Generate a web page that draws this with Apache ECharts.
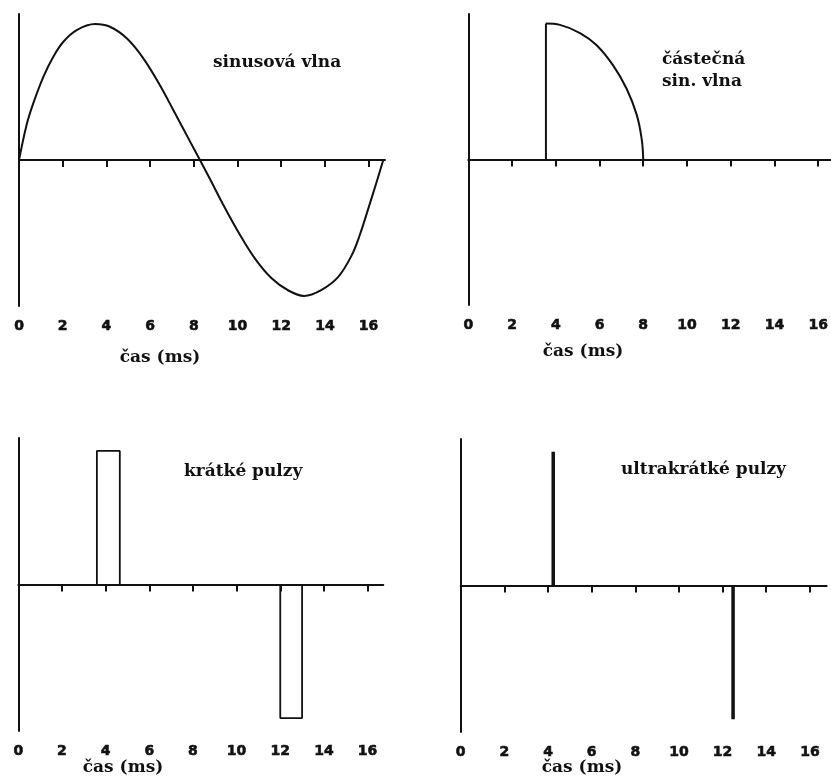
<!DOCTYPE html>
<html>
<head>
<meta charset="utf-8">
<script src="https://cdn.jsdelivr.net/npm/echarts@6/dist/echarts.min.js"></script>
<style>
  html, body { margin: 0; padding: 0; background: #ffffff; }
  #chart { width: 831px; height: 777px; }
</style>
</head>
<body>
<div id="chart"></div>
<script>
// Time axis (ms)
const tickLabels = [0, 2, 4, 6, 8, 10, 12, 14, 16];
const tickMarks = [2, 4, 6, 8, 10, 12, 14, 16];

// Full sine wave (one 60 Hz cycle)
const sineT = [0, 0.35, 0.66, 1.11, 1.57, 2.03, 2.64, 3.48, 4.16, 4.93, 5.69, 6.45, 7.06, 7.83, 8.28,
               8.74, 9.35, 10.11, 10.80, 11.56, 12.33, 13.05, 13.85, 14.61, 15.23, 15.60, 16.00, 16.37, 16.67];
const sineV = [0, 0.26, 0.42, 0.61, 0.76, 0.87, 0.956, 1.0, 0.98, 0.895, 0.748, 0.55, 0.368, 0.135, 0,
               -0.14, -0.33, -0.55, -0.725, -0.87, -0.96, -1.0, -0.955, -0.86, -0.70, -0.55, -0.35, -0.16, 0];

// Partial sine wave: rising edge, then decaying arc
const partEdgeT = [3.55, 3.55];
const partEdgeV = [0, 1.0];
const partArcT = [3.55, 4.19, 5.11, 5.87, 6.63, 7.24, 7.70, 7.93, 8.0];
const partArcV = [1.0, 0.99, 0.93, 0.84, 0.69, 0.52, 0.33, 0.15, 0];

// Short pulses (rectangles)
const pulsePosT = [3.6, 3.6, 4.65, 4.65];
const pulsePosV = [0, 1, 1, 0];
const pulseNegT = [12.0, 12.0, 13.0, 13.0];
const pulseNegV = [0, -1, -1, 0];

// Ultra-short pulses (spikes)
const spikePosT = [4.24, 4.24];
const spikePosV = [0, 1];
const spikeNegT = [12.48, 12.48];
const spikeNegV = [0, -1];

const zip = (t, v) => t.map((x, i) => [x, v[i]]);

const INK = '#111111';
const panels = [
  { left: 19,    top: 14,  width: 366, height: 292, xMax: 16.75, yMax: 1.074 },
  { left: 468.3, top: 14,  width: 363, height: 291, xMax: 16.6,  yMax: 1.07 },
  { left: 18.3,  top: 438, width: 365, height: 293, xMax: 16.72, yMax: 1.097 },
  { left: 460.7, top: 439, width: 366, height: 293, xMax: 16.77, yMax: 1.095 }
];

const grid = panels.map(p => ({
  left: p.left, top: p.top, width: p.width, height: p.height,
  containLabel: false, outerBoundsMode: 'none'
}));

const xAxis = [];
const yAxis = [];
panels.forEach((p, i) => {
  // zero line with downward ticks
  xAxis.push({
    type: 'value', gridIndex: i, min: 0, max: p.xMax, position: 'bottom',
    axisLine: { show: true, onZero: true, lineStyle: { color: INK, width: 2 } },
    axisTick: { show: true, customValues: tickMarks, length: 7, inside: false, lineStyle: { color: INK, width: 2 } },
    axisLabel: { show: false },
    splitLine: { show: false }
  });
  // tick labels along the bottom
  xAxis.push({
    type: 'value', gridIndex: i, min: 0, max: p.xMax, position: 'bottom',
    axisLine: { show: false, onZero: false },
    axisTick: { show: false },
    axisLabel: {
      show: true, customValues: tickLabels, margin: 13,
      color: INK, fontFamily: 'DejaVu Sans', fontWeight: 'bold', fontSize: 14,
      textBorderColor: INK, textBorderWidth: 0.6
    },
    splitLine: { show: false }
  });
  yAxis.push({
    type: 'value', gridIndex: i, min: -p.yMax, max: p.yMax,
    axisLine: { show: true, onZero: false, lineStyle: { color: INK, width: 2 } },
    axisTick: { show: false },
    axisLabel: { show: false },
    splitLine: { show: false }
  });
});

const lineSeries = (grid, data, width, smooth) => ({
  type: 'line', xAxisIndex: grid * 2, yAxisIndex: grid, data: data,
  showSymbol: false, smooth: smooth || false, silent: true,
  lineStyle: { color: INK, width: width }, z: 3
});

const series = [
  lineSeries(0, zip(sineT, sineV), 2, 0.35),
  lineSeries(1, zip(partEdgeT, partEdgeV), 2),
  lineSeries(1, zip(partArcT, partArcV), 2, 0.4),
  lineSeries(2, zip(pulsePosT, pulsePosV), 1.8),
  lineSeries(2, zip(pulseNegT, pulseNegV), 1.8),
  lineSeries(3, zip(spikePosT, spikePosV), 3.5),
  lineSeries(3, zip(spikeNegT, spikeNegV), 3.5)
];

const serifText = { fill: INK, fontFamily: 'DejaVu Serif', fontWeight: 'bold', fontSize: 17 };
const label = (x, y, text, align) => ({
  type: 'text', x: x, y: y,
  style: Object.assign({ text: text, textAlign: align || 'left', textVerticalAlign: 'middle' }, serifText)
});

const graphic = [
  label(213, 63, 'sinusová vlna'),
  label(662, 60, 'částečná'),
  label(662, 82, 'sin. vlna'),
  label(184, 472, 'krátké pulzy'),
  label(621, 470, 'ultrakrátké pulzy'),
  label(160, 358, 'čas (ms)', 'center'),
  label(583, 352, 'čas (ms)', 'center'),
  label(123, 768, 'čas (ms)', 'center'),
  label(582, 768, 'čas (ms)', 'center')
];

const chart = echarts.init(document.getElementById('chart'), null, { renderer: 'canvas' });
chart.setOption({
  backgroundColor: '#ffffff',
  animation: false,
  grid: grid,
  xAxis: xAxis,
  yAxis: yAxis,
  series: series,
  graphic: graphic
});
</script>
</body>
</html>
